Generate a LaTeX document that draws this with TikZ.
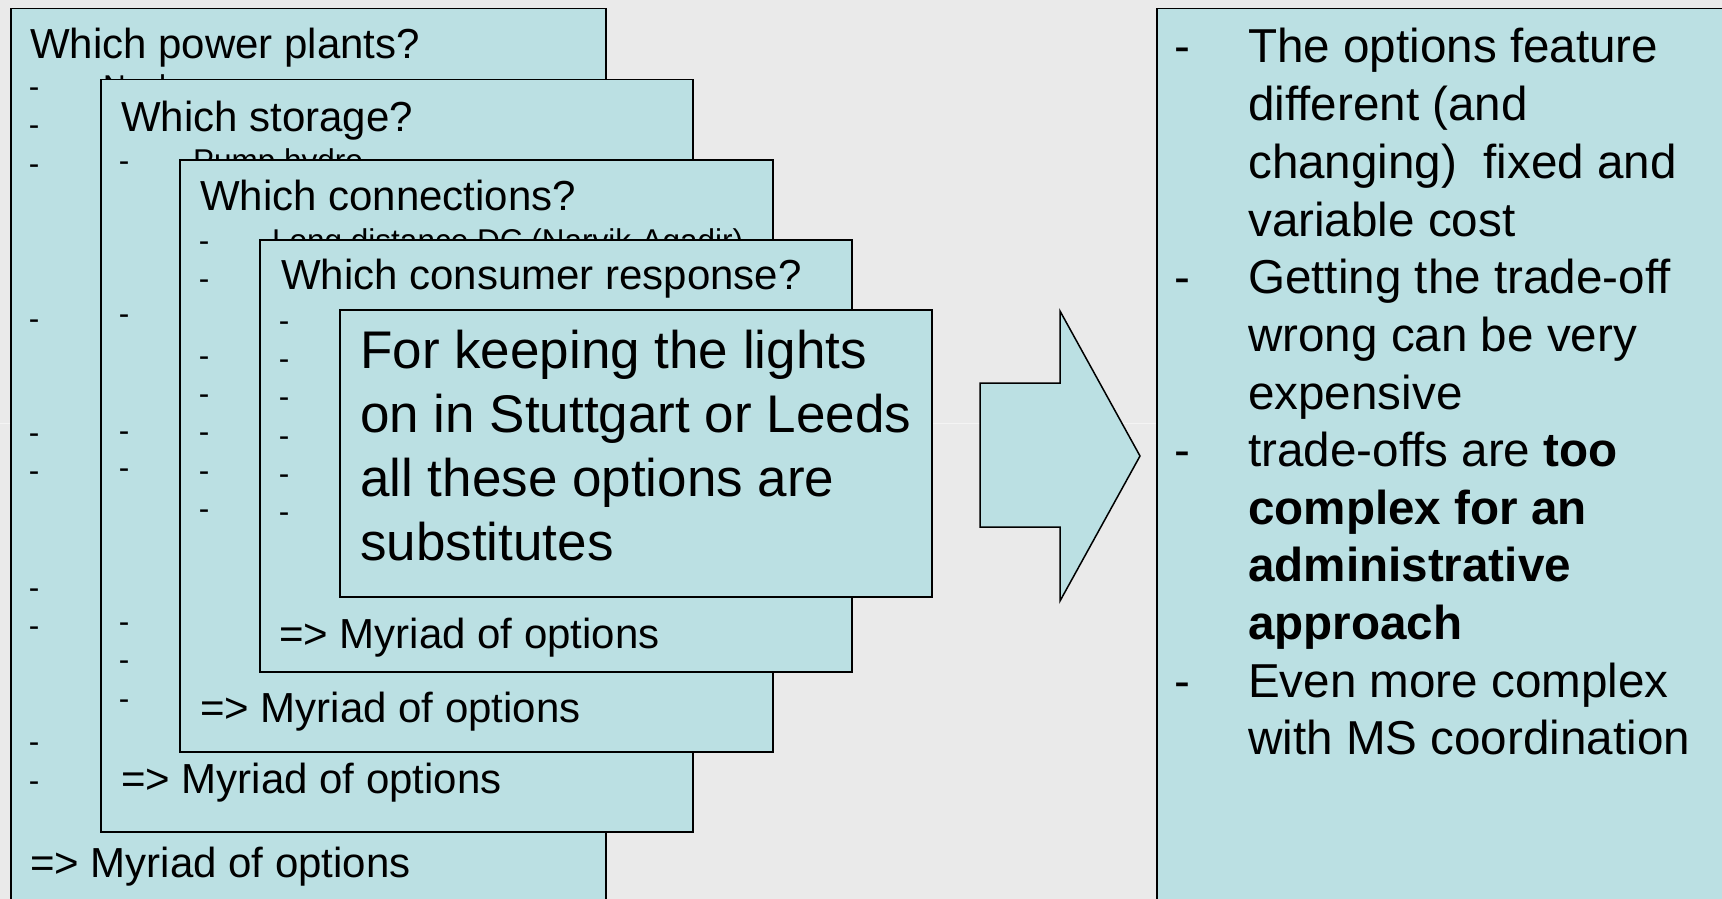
\documentclass[tikz,border=0pt]{standalone}
\usepackage{fontspec}
\setmainfont{Liberation Sans}
\definecolor{bgc}{HTML}{EAEAEA}
\definecolor{boxc}{HTML}{BBE0E3}
\definecolor{seam}{HTML}{F4F4F4}
\begin{document}
\begin{tikzpicture}[x=1pt,y=-1pt,
  box/.style={draw=black, line width=1.5pt, fill=boxc, inner sep=0pt, anchor=north west},
  hd/.style={anchor=base west, inner sep=0pt, font=\fontsize{42}{50}\selectfont},
  itm/.style={anchor=base west, inner sep=0pt, font=\fontsize{31.5}{38}\selectfont},
  dsh/.style={anchor=base, inner sep=0pt, font=\fontsize{31.5}{38}\selectfont},
  big/.style={anchor=base west, inner sep=0pt, font=\fontsize{53}{64}\selectfont},
  rt/.style={anchor=base west, inner sep=0pt, font=\fontsize{47.6}{57}\selectfont},
  rdsh/.style={anchor=base, inner sep=0pt, font=\fontsize{47.6}{57}\selectfont}]
\useasboundingbox (0,0) rectangle (1722,899);
\fill[bgc] (0,0) rectangle (1722,899);
\draw[seam, line width=1pt] (0,423) -- (1722,423);
\clip (0,0) rectangle (1722,899);

% Box 1
\node[box, minimum width=595pt, minimum height=950pt] (b1) at (10,8) {};
\node[hd] (h1) at (30,59) {Which power plants?};
\node[itm] (i1) at (103,97) {Nuclear};
\foreach \y [count=\k] in {97,135,174,329,443,481,598,636,752,791}
  \node[dsh] (d1-\k) at (34,\y) {-};
\node[hd] (m1) at (30,877) {=> Myriad of options};

% Box 2
\node[box, minimum width=592pt, minimum height=752pt] (b2) at (100,79) {};
\node[hd] (h2) at (121,131) {Which storage?};
\node[itm] (i2) at (193,171) {Pump hydro};
\foreach \y [count=\k] in {171,324,441,478,632,670,709}
  \node[dsh] (d2-\k) at (124,\y) {-};
\node[hd] (m2) at (121,793) {=> Myriad of options};

% Box 3
\node[box, minimum width=593pt, minimum height=592pt] (b3) at (179,159) {};
\node[hd] (h3) at (200,210) {Which connections?};
\node[itm] (i3) at (272,251) {Long distance DC (Narvik-Agadir)};
\foreach \y [count=\k] in {251,289,366,404,442,481,519}
  \node[dsh] (d3-\k) at (204,\y) {-};
\node[hd] (m3) at (200,722) {=> Myriad of options};

% Box 4
\node[box, minimum width=592pt, minimum height=432pt] (b4) at (259,239) {};
\node[hd] (h4) at (281,289) {Which consumer response?};
\foreach \y [count=\k] in {331,369,407,446,484,522}
  \node[dsh] (d4-\k) at (284,\y) {-};
\node[hd] (m4) at (279,648) {=> Myriad of options};

% Box 5
\node[box, minimum width=592pt, minimum height=287pt] (b5) at (339,309) {};
\node[big] (t1) at (360,368) {For keeping the lights};
\node[big] (t2) at (360,432) {on in Stuttgart or Leeds};
\node[big] (t3) at (360,496) {all these options are};
\node[big] (t4) at (360,560) {substitutes};

% Arrow
\draw[fill=boxc, line width=1.5pt, line join=miter]
  (980,383) -- (1060,383) -- (1060,311) -- (1140,456) -- (1060,601) -- (1060,527) -- (980,527) -- cycle;

% Right box
\node[box, minimum width=700pt, minimum height=950pt] (rb) at (1156,8) {};
\node[rdsh] (rd1) at (1182,63) {-};
\node[rdsh] (rd2) at (1182,293) {-};
\node[rdsh] (rd3) at (1182,466) {-};
\node[rdsh] (rd4) at (1182,697) {-};
\node[rt] (r1) at (1248,63) {The options feature};
\node[rt] (r2) at (1248,121) {different (and};
\node[rt] (r3) at (1248,178) {changing)\ \ fixed and};
\node[rt] (r4) at (1248,236) {variable cost};
\node[rt] (r5) at (1248,293) {Getting the trade-off};
\node[rt] (r6) at (1248,351) {wrong can be very};
\node[rt] (r7) at (1248,409) {expensive};
\node[rt] (r8) at (1248,466) {trade-offs are \textbf{too}};
\node[rt] (r9) at (1248,524) {\textbf{complex for an}};
\node[rt] (r10) at (1248,581) {\textbf{administrative}};
\node[rt] (r11) at (1248,639) {\textbf{approach}};
\node[rt] (r12) at (1248,697) {Even more complex};
\node[rt] (r13) at (1248,754) {with MS coordination};
\end{tikzpicture}
\end{document}
